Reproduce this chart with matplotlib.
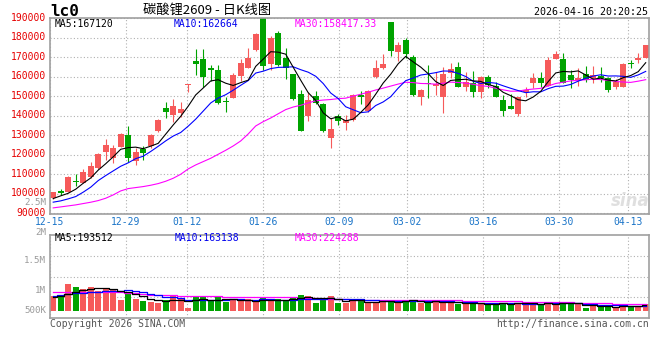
import numpy as np
import pandas as pd
import matplotlib
matplotlib.use("Agg")
import matplotlib.pyplot as plt
from matplotlib.transforms import ScaledTranslation

plt.rcParams['font.family'] = ['DejaVu Sans Mono', 'Noto Sans CJK SC']

# ---------------- data ----------------
tick_days = [0, 10, 18, 28, 38, 47, 57, 67, 76]
tick_labels = ['12-15', '12-29', '01-12', '01-26', '02-09', '03-02', '03-16', '03-30', '04-13']

opens = [97770, 101694, 101182, 106812, 105788, 108518, 113124, 121654, 118583, 124213,
         130184, 116877, 122848, 124725, 132231, 143832, 140420, 141273, 155774, 168057,
         169251, 164645, 163451, 147585, 149291, 160380, 164645, 173687, 191000, 166351,
         182558, 169763, 161233, 150997, 140079, 150144, 145879, 128819, 139737, 136496,
         137861, 150656, 142467, 160039, 164304, 187847, 172834, 178805, 169934, 149803,
         156968, 155092, 149803, 161745, 165157, 154921, 156968, 152362, 159868, 155262,
         148097, 145197, 140932, 152021, 156968, 159527, 155262, 169251, 169251, 160892,
         158162, 161233, 159186, 160380, 159527, 154921, 154921, 166863, 168569, 169763]
highs = [101182, 102547, 109200, 110053, 112783, 116536, 120801, 128137, 125066, 131378,
         134620, 123701, 124554, 130525, 138202, 146903, 148609, 146903, 156286, 174029,
         174029, 166010, 166010, 149803, 161745, 169081, 174540, 182217, 191500, 181023,
         183582, 174540, 161574, 153215, 152021, 152703, 146391, 138714, 140761, 140420,
         150997, 152703, 153044, 168569, 171640, 188188, 177611, 180000, 171128, 153556,
         166010, 162257, 164986, 166863, 167375, 162257, 162939, 160210, 160893, 157480,
         150656, 150997, 149803, 154921, 161745, 162257, 170275, 173346, 171981, 163451,
         164304, 165669, 165498, 164986, 160039, 158845, 166863, 168569, 171981, 176246]
lows = [97429, 99476, 100841, 104253, 105447, 108006, 112783, 117389, 115683, 123872,
        116536, 114830, 117389, 123360, 131890, 138714, 137008, 139567, 152021, 160892,
        154921, 157821, 145879, 142126, 148950, 157821, 164304, 173175, 163451, 163451,
        165669, 158674, 148097, 132061, 137349, 145879, 131890, 123701, 135302, 132743,
        137349, 145879, 142126, 159527, 163963, 170616, 168228, 169422, 150315, 145538,
        148950, 150656, 141615, 159186, 154921, 152703, 149803, 148950, 154068, 149803,
        139908, 143491, 140079, 149803, 154409, 154921, 155262, 169251, 156627, 154409,
        155262, 157480, 156627, 157480, 152362, 153727, 154580, 164304, 167204, 169422]
closes = [100841, 100329, 108688, 105959, 111418, 114318, 120460, 125066, 123701, 130696,
          118583, 121654, 121142, 130184, 137861, 142126, 145197, 143320, 156115, 166692,
          159868, 163280, 146391, 147244, 160892, 167204, 169422, 181876, 165669, 180000,
          166010, 164304, 148438, 132402, 148097, 146391, 132231, 133255, 137349, 137861,
          150656, 149462, 152703, 164645, 166522, 173175, 176246, 171469, 150656, 153215,
          156286, 156115, 161233, 163792, 154921, 157480, 152021, 159868, 155774, 149803,
          142638, 143491, 149462, 153045, 159527, 156968, 168569, 171640, 156968, 158333,
          159527, 158162, 160892, 159527, 153215, 157480, 166522, 166351, 169422, 176246]
volumes = [539000, 539000, 980000, 870000, 796000, 870000, 710000, 833000, 796000, 392000,
           637000, 429000, 368000, 331000, 282000, 392000, 564000, 429000, 110000, 502000,
           502000, 392000, 502000, 331000, 392000, 392000, 429000, 306000, 478000, 392000,
           441000, 392000, 502000, 564000, 539000, 282000, 466000, 539000, 282000, 282000,
           392000, 392000, 282000, 306000, 368000, 392000, 331000, 392000, 392000, 282000,
           282000, 392000, 331000, 282000, 245000, 245000, 306000, 245000, 245000, 245000,
           282000, 282000, 282000, 245000, 245000, 245000, 331000, 245000, 282000, 245000,
           245000, 98000, 184000, 147000, 123000, 147000, 208000, 184000, 184000, 245000]

# moving-average values before each window is complete
ma5_lead = [97600, 99000, 100300, 102400]
ma10_lead = [95758, 96422, 97446, 98623, 100876, 103435, 106813, 109372, 111777]
ma30_lead = [92823, 93334, 93846, 94358, 95040, 95723, 96570, 97770, 99476, 101523,
             102717, 103229, 103741, 104424, 105276, 106470, 108006, 110053, 112783, 114830,
             116536, 118242, 120289, 122336, 124554, 127113, 130696, 134790, 137008]
vma5_lead = [514500, 539000, 612500, 686000]
vma10_lead = [539000, 563500, 612500, 637000, 661500, 686000, 698250, 710500, 710500]
vma30_lead = [686000] * 10 + [661500, 637000, 612500, 588000, 575750, 563500, 563500, 551250,
                              539000, 539000, 526750, 526750, 526750, 514500, 514500, 514500,
                              514500, 514500, 514500]

price_ticks = list(range(90000, 190001, 10000))
vol_label_texts = ['2.5M', '2M', '1.5M', '1M', '500K']
legend_price = ['MA5:167120', 'MA10:162664', 'MA30:158417.33']
legend_vol = ['MA5:193512', 'MA10:163138', 'MA30:224288']
title = '碳酸锂2609 - 日K线图'
symbol = 'lc0'
stamp = '2026-04-16 20:20:25'


def moving(vals, n, lead):
    out = pd.Series(vals, dtype=float).rolling(n).mean().to_numpy()
    out[:n - 1] = lead
    return out


o = np.array(opens, float); h = np.array(highs, float)
l = np.array(lows, float); c = np.array(closes, float)
v = np.array(volumes, float)
n = len(c)
x = np.arange(n)

ma5 = moving(c, 5, ma5_lead); ma10 = moving(c, 10, ma10_lead); ma30 = moving(c, 30, ma30_lead)
vma5 = moving(v, 5, vma5_lead); vma10 = moving(v, 10, vma10_lead); vma30 = moving(v, 30, vma30_lead)

# ---------------- styling ----------------
UP = '#f65a5a'
DOWN = '#00a300'
FRAME = '#a0a0a0'
GRID = '#b0b0b0'
W, H = 660, 360

fig = plt.figure(figsize=(6.6, 3.6), dpi=100)
fig.patch.set_facecolor('white')


def rect(x0, y0, x1, y1):
    return [x0 / W, 1 - y1 / H, (x1 - x0) / W, (y1 - y0) / H]


def fx(px):
    return px / W


def fy(py):
    return 1 - py / H


ax = fig.add_axes(rect(50, 18.2, 649.3, 213.6))
axv = fig.add_axes(rect(50, 234.7, 649.3, 318.3))

xlim = (-0.427, 79.48)
grid_step = 7.6 / 7.5
grid_pos = xlim[0] + np.array(tick_days) * grid_step

colors = np.where(c >= o, UP, DOWN)

# candles
ax.vlines(x, l, h, colors=colors, lw=0.8, zorder=2)
ax.bar(x, np.maximum(np.abs(c - o), 450), bottom=np.minimum(o, c), width=0.76,
       color=colors, linewidth=0, zorder=2)
ax.plot(x, ma30, color='#ff00ff', lw=0.8, zorder=3)
ax.plot(x, ma10, color='#0000ff', lw=0.8, zorder=3)
ax.plot(x, ma5, color='black', lw=0.8, zorder=3)

ax.set_xlim(*xlim)
ax.set_ylim(89900, 190000)
ax.set_yticks(price_ticks)
ax.set_yticklabels([str(t) for t in price_ticks])
ax.set_xticks(grid_pos)
ax.set_xticklabels(tick_labels)
ax.tick_params(axis='both', length=0, labelsize=7.0, pad=3)
ax.tick_params(axis='x', pad=2.5)
ax.tick_params(axis='y', labelcolor='#e60000')
ax.tick_params(axis='x', labelcolor='#1a74c8')
ax.grid(True, ls=(0, (1, 2)), color=GRID, lw=0.8)
ax.set_axisbelow(True)
lift = ScaledTranslation(0, 1.5 / 100, fig.dpi_scale_trans)
for lab in ax.get_yticklabels():
    lab.set_transform(lab.get_transform() + lift)

# volume
axv.bar(x, v, width=0.78, color=colors, linewidth=0, zorder=2)
axv.plot(x, vma30, color='#ff00ff', lw=0.9, drawstyle='steps-mid', zorder=3)
axv.plot(x, vma10, color='#0000ff', lw=0.9, drawstyle='steps-mid', zorder=3)
axv.plot(x, vma5, color='black', lw=0.9, drawstyle='steps-mid', zorder=3)
axv.set_xlim(*xlim)
vlo, vhi = -280000, 2793000
axv.set_ylim(vlo, vhi)
axv.set_yticks([vlo + (vhi - vlo) * f for f in (0.25, 0.5, 0.75)])
axv.set_yticklabels([])
axv.set_xticks(grid_pos)
axv.set_xticklabels([])
axv.tick_params(axis='both', length=0)
axv.grid(True, ls=(0, (1, 2)), color=GRID, lw=0.8)
axv.set_axisbelow(True)

for a in (ax, axv):
    for s in a.spines.values():
        s.set_color(FRAME)
        s.set_linewidth(1.2)

# volume axis labels (positioned as on the original)
for txt, py in zip(vol_label_texts, [202.2, 232.2, 260.7, 290.7, 310.7]):
    fig.text(fx(46), fy(py), txt, ha='right', va='center', color='#9a9a9a', fontsize=6.6)

# header
fig.text(fx(50), fy(11.3), symbol, ha='left', va='center', fontsize=11.5,
         fontweight='bold', color='black')
fig.text(fx(207), fy(10), title, ha='center', va='center', fontsize=9.5, color='black',
         family=['Noto Sans CJK SC', 'DejaVu Sans'])
fig.text(fx(648), fy(11.7), stamp, ha='right', va='center', fontsize=7.2, color='black')

# legends
for txt, px, col in zip(legend_price, [55, 173.3, 295], ['black', '#0000ee', '#ff00ff']):
    fig.text(fx(px), fy(24), txt, ha='left', va='center', fontsize=7.0, color=col)
for txt, px, col in zip(legend_vol, [55, 175, 295], ['black', '#0000ee', '#ff00ff']):
    fig.text(fx(px), fy(238.3), txt, ha='left', va='center', fontsize=7.0, color=col)

# footer
fig.text(fx(50), fy(323.7), 'Copyright 2026 SINA.COM', ha='left', va='center',
         fontsize=7.0, color='#555555')
fig.text(fx(649), fy(323.7), 'http://finance.sina.com.cn', ha='right', va='center',
         fontsize=7.0, color='#555555')

# watermark
fig.text(fx(650), fy(201), 'sina', ha='right', va='center', fontsize=12, style='italic',
         fontweight='bold', color='#dcdcdc', family='DejaVu Sans', alpha=0.9)

fig.savefig('out.png', dpi=100, facecolor='white')
